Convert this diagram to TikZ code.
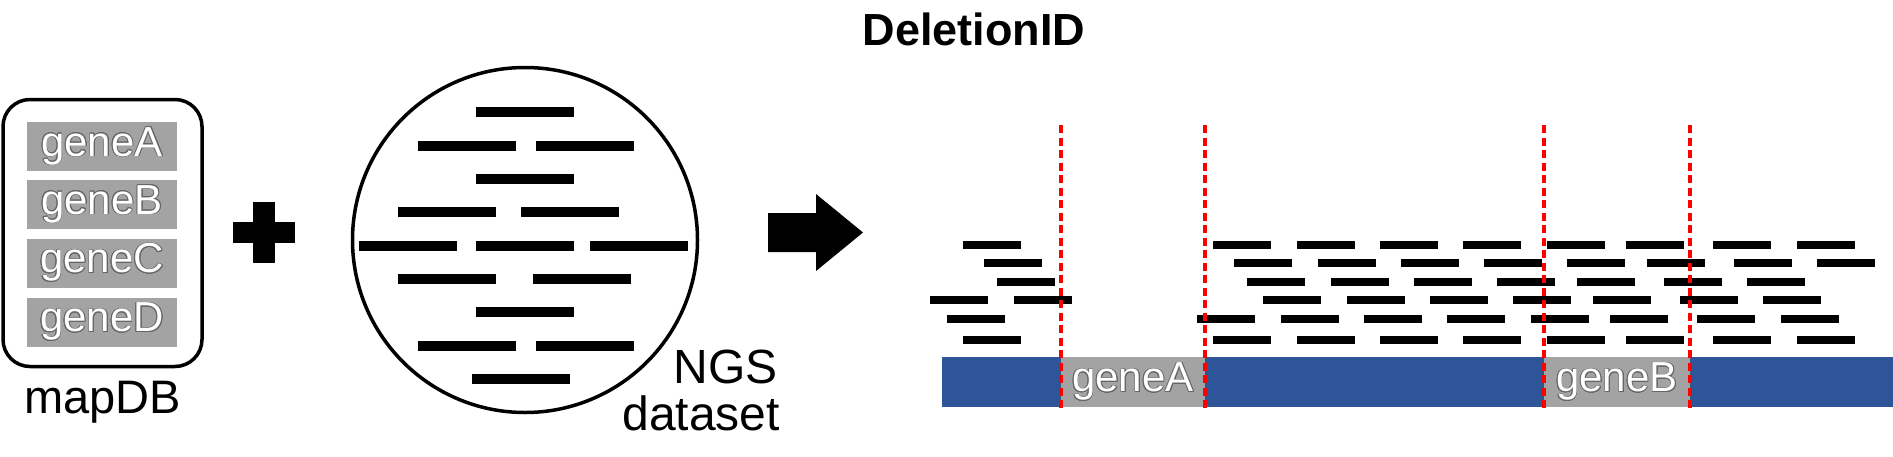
\documentclass[tikz,border=0pt]{standalone}
\usepackage{fontspec}
\setmainfont{Liberation Sans}
\usepackage{contour}
\usepackage{tikz}
\contourlength{0.7pt}
\contournumber{16}
\definecolor{gengris}{RGB}{163,163,163}
\definecolor{azulgen}{RGB}{46,85,151}
\definecolor{rojocorte}{RGB}{255,0,0}
\def\lread{58}
\def\hread{8}
\def\lbarra{98}

\begin{document}
\begin{tikzpicture}[x=1pt, y=-1pt,
    gen/.style={fill=gengris, text=white, inner sep=0pt, minimum width=150pt,
      minimum height=49pt, font=\fontsize{42}{42}\selectfont},
    etiqueta/.style={font=\fontsize{47}{47}\selectfont, inner sep=0pt},
    corte/.style={rojocorte, line width=4pt, dash pattern=on 8pt off 4.5pt}]
    \useasboundingbox (0,0) rectangle (1893,456);

    % Titulo
    \node[font=\bfseries\fontsize{45}{45}\selectfont, inner sep=0pt, anchor=base]
      (titulo) at (974,45) {DeletionID};

    % mapDB
    \node[draw, line width=3.5pt, rounded corners=27pt, minimum width=199pt,
      minimum height=267pt] (mapdb) at (102.5,233) {};
    \node[gen] (gA) at (102,146.5) {\contour{black!60}{geneA}};
    \node[gen] (gB) at (102,204.5) {\contour{black!60}{geneB}};
    \node[gen] (gC) at (102,263) {\contour{black!60}{geneC}};
    \node[gen] (gD) at (102,322) {\contour{black!60}{geneD}};
    \node[etiqueta, anchor=base] (mapdbtxt) at (102.5,413) {mapDB};

    % Signo +
    \fill (253,202) rectangle (275,263);
    \fill (233,222) rectangle (295,243);

    % NGS dataset
    \node[draw, circle, line width=3.5pt, minimum size=345pt, inner sep=0pt]
      (ngs) at (525,240) {};
    \foreach \x/\y in {476/112, 418/146, 536/146, 476/179, 398/212, 521/212,
                       359/246, 476/246, 590/246, 398/279, 533/279, 476/312,
                       418/346, 536/346, 472/379}
      \fill (\x,\y-5) rectangle ++(\lbarra,10);
    \node[etiqueta, font=\fontsize{48}{48}\selectfont, anchor=base east]
      (ngstxt) at (778,383) {NGS};
    \node[etiqueta, font=\fontsize{48}{48}\selectfont, anchor=base east]
      (datatxt) at (780,430) {dataset};

    % Flecha
    \fill (768,213) -- (816,213) -- (816,194) -- (863,232.5) -- (816,271)
      -- (816,252) -- (768,252) -- cycle;

    % Genoma de referencia
    \fill[azulgen] (942,357) rectangle (1893,407);
    \node[gen, minimum width=144pt, minimum height=50pt] (locA) at (1133,382)
      {\contour{black!60}{geneA}};
    \node[gen, minimum width=146pt, minimum height=50pt] (locB) at (1617,382)
      {\contour{black!60}{geneB}};

    % Lecturas mapeadas
    \foreach \y/\xs in {
        245/{963,1213,1297,1380,1463,1547,1626,1713,1797},
        263/{984,1234,1318,1401,1484,1567,1647,1734,1817},
        282/{997,1247,1331,1414,1497,1577,1664,1747},
        300/{930,1014,1263,1347,1430,1513,1593,1680,1763},
        319/{947,1197,1281,1364,1447,1531,1610,1697,1781},
        340/{963,1213,1297,1380,1463,1547,1626,1713,1797}}{
      \foreach \x in \xs
        \fill (\x,\y-\hread/2) rectangle ++(\lread,\hread);
    }

    % Cortes (lineas rojas)
    \foreach \x in {1061,1205,1544,1690}
      \draw[corte] (\x,125) -- (\x,408);
  \end{tikzpicture}
\end{document}
